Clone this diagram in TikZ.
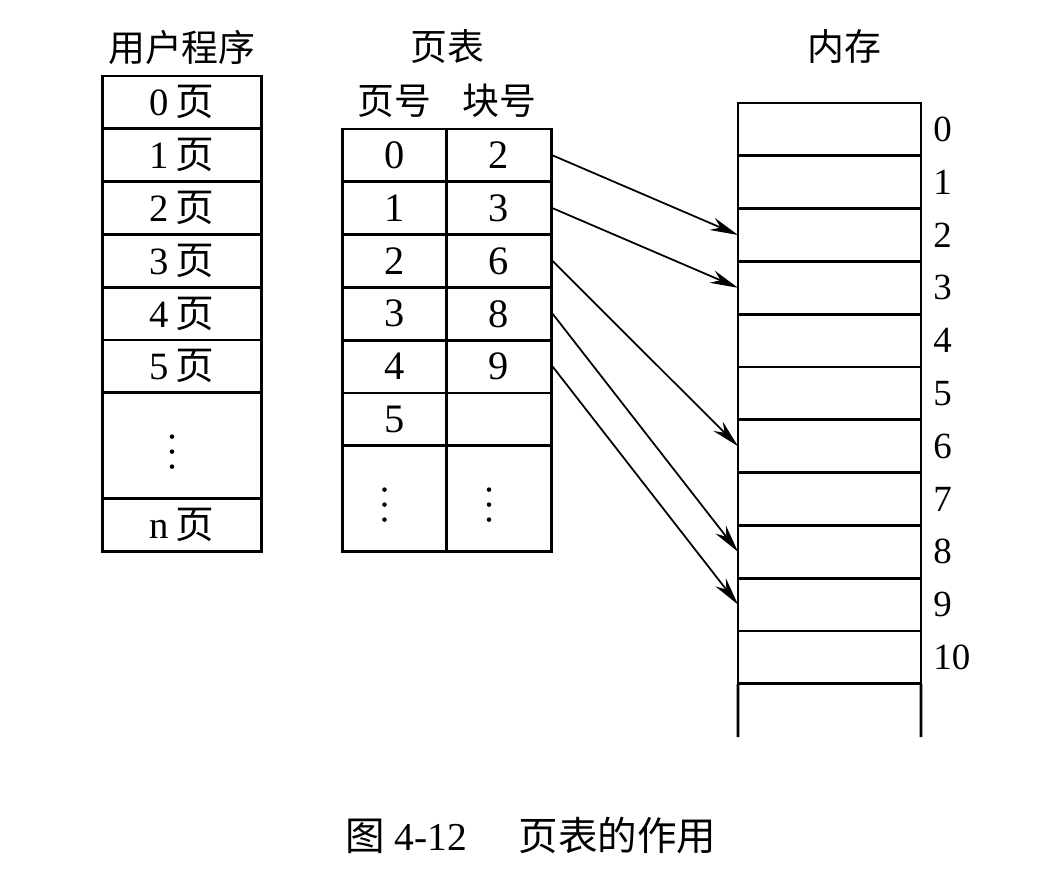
\documentclass[tikz,border=0pt]{standalone}
\usepackage{fontspec}
\setmainfont{Liberation Serif}
\newfontfamily\cjk{Noto Sans CJK SC}
\usetikzlibrary{positioning,arrows.meta}
\tikzset{
  progcell/.style={draw, line width=1.6pt, minimum width=3.18cm, minimum height=1.056cm, inner sep=0pt, font=\fontsize{22}{24}\selectfont},
  tablecell/.style={draw, line width=1.6pt, minimum width=2.09cm, minimum height=1.056cm, inner sep=0pt, font=\fontsize{23}{25}\selectfont},
  memcell/.style={draw, line width=1.6pt, minimum width=3.66cm, minimum height=1.056cm, inner sep=0pt, outer sep=0pt},
  memlabel/.style={inner sep=0pt, font=\fontsize{21}{23}\selectfont},
  headtext/.style={inner sep=0pt, font=\cjk\fontsize{21}{24}\selectfont},
  maparrow/.style={-{Stealth[length=16pt, width=7.5pt]}, line width=1pt},
  dotmark/.style={fill=black}
}
\newcommand{\pg}{\,{\cjk 页}}

\begin{document}
\begin{tikzpicture}[x=0.02cm, y=-0.02cm]
      \useasboundingbox (0,0) rectangle (1046,869);
      % user program
      \node[headtext] (progtitle) at (182,47) {用户程序};
      \node[progcell] (u0) at (182,102.4) {0\pg};
      \node[progcell] (u1) at (182,155.2) {1\pg};
      \node[progcell] (u2) at (182,208.0) {2\pg};
      \node[progcell] (u3) at (182,260.8) {3\pg};
      \node[progcell] (u4) at (182,313.6) {4\pg};
      \node[progcell] (u5) at (182,366.4) {5\pg};
      \node[progcell, minimum height=2.112cm] (udots) at (182,445.6) {};
      \node[progcell] (un) at (182,524.8) {n\pg};
      % page table
      \node[headtext] (tabtitle) at (447,47) {页表};
      \node[headtext] (pghead) at (394.5,101) {页号};
      \node[headtext] (blkhead) at (499,101) {块号};
      \node[tablecell] (p0) at (394.5,155.4) {0};
      \node[tablecell] (b0) at (499,155.4) {2};
      \node[tablecell] (p1) at (394.5,208.2) {1};
      \node[tablecell] (b1) at (499,208.2) {3};
      \node[tablecell] (p2) at (394.5,261.0) {2};
      \node[tablecell] (b2) at (499,261.0) {6};
      \node[tablecell] (p3) at (394.5,313.8) {3};
      \node[tablecell] (b3) at (499,313.8) {8};
      \node[tablecell] (p4) at (394.5,366.6) {4};
      \node[tablecell] (b4) at (499,366.6) {9};
      \node[tablecell] (p5) at (394.5,419.4) {5};
      \node[tablecell] (b5) at (499,419.4) {};
      \node[tablecell, minimum height=2.112cm] (pdots) at (394.5,498.6) {};
      \node[tablecell, minimum height=2.112cm] (bdots) at (499,498.6) {};
      % vertical dots
      \foreach \c in {udots,pdots,bdots}
        \foreach \d in {-15,0,15}
          \fill[dotmark] ([shift={(-10,6+\d)}]\c.center) circle (1.3pt);
      % memory
      \node[headtext] (memtitle) at (844,47) {内存};
      \foreach \i in {0,...,10} {
        \node[memcell] (m\i) at (829.5,{129.4+52.8*\i}) {};
        \node[memlabel, right=0.24cm of m\i] (l\i) {\i};
      }
      \coordinate (mendl) at (738,737);
      \coordinate (mendr) at (921,737);
      \draw[line width=1.6pt] (m10.south west) -- (mendl);
      \draw[line width=1.6pt] (m10.south east) -- (mendr);
      % mapping
      \draw[maparrow] (b0.east) -- (m2.west);
      \draw[maparrow] (b1.east) -- (m3.west);
      \draw[maparrow] (b2.east) -- (m6.west);
      \draw[maparrow] (b3.east) -- (m8.west);
      \draw[maparrow] (b4.east) -- (m9.west);
      \node[font=\fontsize{22.5}{26}\selectfont] (caption) at (531,835) {{\cjk 图}~4-12\hspace{1.3em}{\cjk 页表的作用}};
    \end{tikzpicture}
\end{document}
